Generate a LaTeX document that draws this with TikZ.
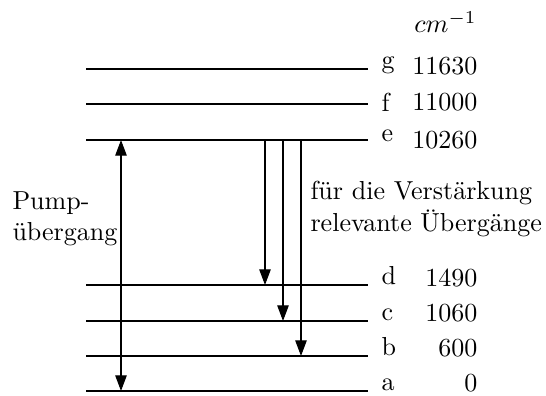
\documentclass[tikz,border=0pt]{standalone}
\usepackage{amsmath}
\usetikzlibrary{arrows.meta,positioning,calc}

\begin{document}
\begin{tikzpicture}[x=0.0135cm, y=0.0135cm,
    level/.style={line width=0.8pt},
    trans/.style={thin, -{Triangle[length=6pt, width=4.4pt]}},
    lbl/.style={font=\normalsize, inner sep=0pt},
    txt/.style={align=left, inner sep=0pt}
  ]
    \useasboundingbox (0,0) rectangle (546,396);
    % Energy levels (name / height / value / shift of name / shift of value)
    \foreach \n/\y/\v/\dn/\dv in {a/5/0/0/-1, b/40/600/0/-1, c/75/1060/0/-1,
                                  d/111/1490/0/-2, e/256/10260/-2/-9,
                                  f/292/11000/-8/-7, g/327/11630/0/-6} {
      \coordinate (\n L) at (86,\y);
      \coordinate (\n R) at (368,\y);
      \draw[level] (\n L) -- (\n R);
      \node[lbl, anchor=base west] (\n name) at (381,\y+\dn) {\n};
      \node[lbl, anchor=base east] (\n val) at (478,\y+\dv) {\v};
    }
    \node[lbl, anchor=base east] (unit) at (477,363) {$cm^{-1}$};
    % Pump transition
    \coordinate (pump) at (121,0);
    \draw[trans, {Triangle[length=6pt, width=4.4pt]}-{Triangle[length=6pt, width=4.4pt]}]
      (pump |- aL) -- (pump |- eL);
    \node[txt, anchor=west] (pumplbl) at (12,177) {Pump-\\übergang};
    % Laser transitions
    \coordinate (t1) at (265,0);
    \coordinate (t2) at (283,0);
    \coordinate (t3) at (301,0);
    \draw[trans] (t1 |- eL) -- (t1 |- dL);
    \draw[trans] (t2 |- eL) -- (t2 |- cL);
    \draw[trans] (t3 |- eL) -- (t3 |- bL);
    \node[txt, anchor=west] (laserlbl) at (310,187)
      {für die Verstärkung\\relevante Übergänge};
\end{tikzpicture}
\end{document}
